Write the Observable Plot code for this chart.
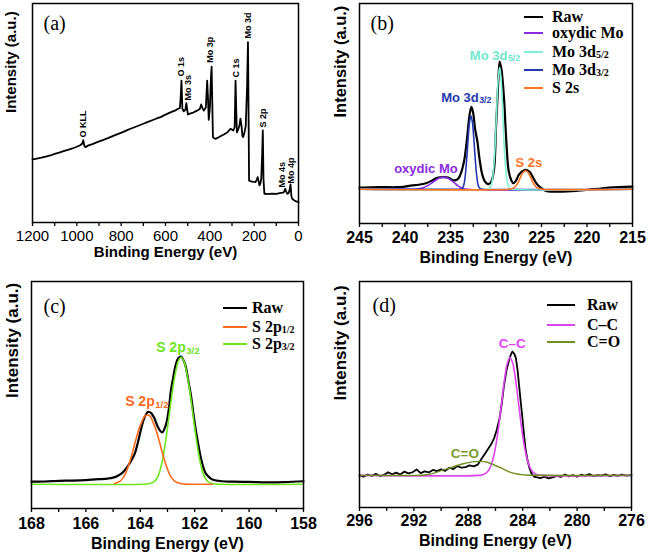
<!DOCTYPE html>
<html><head><meta charset="utf-8">
<script src="https://cdn.jsdelivr.net/npm/d3@7"></script>
<script src="https://cdn.jsdelivr.net/npm/@observablehq/plot@0.6"></script>
<style>
body{margin:0;background:#fff;}
#wrap{position:relative;width:650px;height:557px;overflow:hidden;background:#fff;}
.pnl{position:absolute;}
.leg{position:absolute;font-family:"Liberation Serif","Times New Roman",serif;font-weight:bold;font-size:16px;color:#000;}
.leg .ln{position:absolute;height:0;border-top:2px solid;}
.leg .tx{position:absolute;white-space:nowrap;line-height:18px;}
.leg sub{font-size:10px;vertical-align:baseline;position:relative;top:1px;}
</style></head><body><div id="wrap"></div><script>
// ---------- (a) survey ----------
const surveyBE = [1200,1180,1160,1140,1119,1100,1080,1060,1040,1020,1000,985,975,971,966,961,950,930,908,880,860,833,810,790,770,758,740,720,700,682,660,640,622,607,590,570,555,545,535,531,528,524,518,510,506,502,499,490,475,457,445,439,433,427,418,412,408,405,400,395,392,389,386,380,374,360,350,337,320,307,300,294,288,284,281,278,272,266,262,257,253,250,245,238,232,228,226,223,220,210,200,194,188,184,180,176,172,168,164,161,158,154,150,140,120,100,85,72,66,60,56,50,45,40,36,32,28,20,10,0];
const surveyI = [28.8,29.2,29.6,30.1,30.6,31.3,31.9,32.6,33.2,33.8,34.6,35.3,36.1,37.6,35.0,34.4,35.1,35.8,36.7,37.7,38.5,39.7,40.6,41.4,42.3,42.8,43.5,44.3,45.1,45.8,46.7,47.5,48.1,48.9,49.7,50.6,51.2,51.8,52.3,58.0,64.8,52.0,50.8,51.5,54.5,51.5,49.3,49.7,50.2,51.1,51.8,53.9,52.2,51.1,52.5,64.8,56.0,46.9,52.0,66.0,71.2,55.0,39.0,38.5,38.2,38.9,39.5,40.2,41.2,42.8,42.4,42.0,43.5,64.8,52.0,41.2,42.5,44.5,47.4,44.0,39.5,39.0,40.5,44.0,62.0,82.3,60.0,19.2,19.0,18.7,18.5,18.4,19.6,20.7,18.8,17.0,17.8,20.0,31.0,42.0,20.0,13.1,13.2,13.0,13.2,13.1,13.4,13.6,13.8,15.4,14.2,13.1,13.4,15.0,17.4,12.0,10.8,10.2,9.6,9.3];
const surveyLabels = ["O KLL","O 1s","Mo 3s","Mo 3p","C 1s","Mo 3d","S 2p","Mo 4s","Mo 4p"];
const surveyLabelBE = [970,528,496,401,280,225.6,158,72,31.6];
const surveyLabelI = [38.8,66.7,55.7,73,66.2,84,43.4,16,17.8];
const surveyTicks = [1200,1000,800,600,400,200,0];
const surveyMinor = [1100,900,700,500,300,100];

// ---------- (b) Mo 3d ----------
const moBE = [245,244,243,242,241,240,239.2,238.5,237.7,237,236.6,236.2,235.7,235.2,234.8,234.4,234.1,233.8,233.5,233.3,233.1,232.9,232.7,232.5,232.3,232.05,231.8,231.5,231.2,230.8,230.5,230.2,230,229.8,229.6,229.4,229.1,228.9,228.6,228.3,228.1,227.8,227.5,227.1,226.7,226.3,226,225.6,225.1,224.5,223.8,223.1,222.2,221.2,220.3,219.4,218.5,217.6,216.5,215];
const moRaw = [16.3,16.4,16.5,16.5,16.5,16.8,17.3,17.6,18.3,19.6,20.6,21.0,21.1,20.8,19.8,19.7,20.6,23.5,28.5,34.4,42,49.5,53,50,43,37.4,29,22.1,19,17.9,19.2,25.2,43.5,60,73.6,70,55.7,40,23.7,19.5,18.3,19.5,22.1,23.8,24.4,23.5,21.4,18.5,16.3,14.8,14.5,14.5,14.6,14.8,15.1,15.6,15.9,16.3,16.6,16.8];
const oxBE = [245,239,238.5,238,237.5,237,236.5,236.1,235.8,235.4,235,234.6,234.2,233.8,233.4,215];
const oxI = [15.6,15.6,15.8,16.3,17.2,18.6,20.0,20.9,21.1,20.8,19.9,18.6,17.2,16.2,15.7,15.6];
const d32BE = [245,234.1,233.85,233.65,233.5,233.35,233.2,233.05,232.9,232.75,232.6,232.45,232.3,232.15,232.0,231.85,231.65,231.4,215];
const d32I = [15.6,15.6,15.7,16.3,18.2,22.9,30.4,39.3,46.3,48.9,46.3,39.3,30.4,22.9,18.2,16.3,15.7,15.6,15.6];
const d52BE = [245,231,230.7,230.5,230.35,230.2,230.05,229.9,229.75,229.6,229.45,229.3,229.15,229.0,228.85,228.7,228.5,228.2,215];
const d52I = [15.6,15.6,16.0,17.7,21.4,28.3,39.7,54.2,66.3,71,66.3,54.2,39.7,28.3,21.4,17.7,16.0,15.6,15.6];
const s2sBE = [245,228.6,228.25,228.0,227.75,227.5,227.25,227.0,226.75,226.5,226.25,226.0,225.75,225.5,225.25,224.9,215];
const s2sI = [15.6,15.6,15.9,16.3,17.4,19.1,21.5,23.3,24,23.3,21.5,19.1,17.4,16.3,15.9,15.6,15.6];
const moTicks = [245,240,235,230,225,220,215];
const moMinor = [242.5,237.5,232.5,227.5,222.5,217.5];
const moLabels = ["oxydic Mo","Mo 3d","Mo 3d","S 2s"];
const moLabelSub = ["","3/2","5/2",""];
const moLabelBE = [237.7,231.9,228.75,226.4];
const moLabelI = [24.7,57.3,76.3,27.5];

// ---------- (c) S 2p ----------
const sBE = [168,167.5,167,166.5,166,165.5,165.2,165.0,164.84,164.65,164.47,164.3,164.2,164.1,163.98,163.85,163.71,163.6,163.49,163.34,163.2,163.06,162.95,162.88,162.8,162.7,162.6,162.5,162.4,162.33,162.2,162.14,162.05,161.96,161.85,161.77,161.68,161.59,161.45,161.35,161,160.55,160,159.32,158.7,158];
const sRaw = [11.8,11.9,12.2,12.3,12.5,12.9,13.2,13.6,14.3,15.8,18.4,21.8,24.3,28.5,34.6,40,42.6,42,40,35.6,33.5,36.8,44,51.5,57,63.2,66.3,66.9,65,62.5,54,50,42,34.6,27,22.1,18,15.4,13.6,12.8,12.0,11.8,11.7,11.5,11.6,12];
const p32BE = [168,163.9,163.7,163.6,163.5,163.4,163.3,163.2,163.1,163.0,162.9,162.8,162.7,162.6,162.5,162.4,162.3,162.2,162.1,162.0,161.9,161.8,161.7,161.6,161.5,161.3,161.1,158];
const p32I = [10.7,10.7,10.9,11.2,11.7,13.1,15.8,20.4,27.2,35.5,44.6,53.2,60.2,64.9,66.6,64.9,60.2,53.2,44.6,35.5,27.2,20.4,15.8,13.1,11.7,10.9,10.7,10.7];
const p12BE = [164.95,164.74,164.64,164.54,164.44,164.34,164.24,164.14,164.04,163.94,163.84,163.74,163.64,163.54,163.44,163.34,163.24,163.14,163.04,162.94,162.84,162.74,162.54,162.34,161.35];
const p12I = [11.0,12.1,13.4,15.5,18.6,22.5,26.8,31.3,35.3,38.3,40.7,41.2,40.7,38.3,35.3,31.3,26.8,22.5,18.6,15.5,13.4,12.1,11.0,10.75,10.7];
const sTicks = [168,166,164,162,160,158];
const sMinor = [167,165,163,161,159];
const sLabels = ["S 2p","S 2p"];
const sLabelSub = ["1/2","3/2"];
const sLabelBE = [163.47,162.33];
const sLabelI = [47,70.9];

// ---------- (d) C 1s ----------
const cBE = [296.0,295.7,295.4,295.1,294.8,294.5,294.2,293.9,293.6,293.3,293.0,292.7,292.4,292.1,291.8,291.5,291.2,290.9,290.6,290.3,290.0,289.7,289.4,289.1,288.8,288.5,288.2,287.9,287.6,287.3,287.0,286.75,286.5,286.3,286.1,285.9,285.7,285.55,285.4,285.2,285.0,284.85,284.76,284.62,284.5,284.38,284.27,284.15,284.02,283.9,283.8,283.65,283.5,283.35,283.17,283.0,282.7,282.4,282.1,281.8,281.5,281.2,280.9,280.6,280.3,280.0,279.7,279.4,279.1,278.8,278.5,278.2,277.9,277.6,277.3,277.0,276.7,276.4,276.0];
const cRaw = [14.3,13.6,14.6,14.0,14.9,13.9,14.4,15.6,14.7,15.4,14.6,15.9,15.1,15.6,16.8,15.2,16.0,15.5,16.6,16.1,16.9,16.2,17.6,17.0,18.3,17.6,17.9,18.6,18.2,19.0,21.8,24.0,26.3,28.2,30.7,34.5,39.5,45.5,52.8,60.5,65.3,68.0,69.0,68.0,66.1,61,54.3,47,39.5,32,26.3,21,17.4,15.0,13.7,13.4,13.0,13.6,12.9,13.3,14.0,13.5,14.6,13.8,14.3,13.6,14.5,14.0,14.8,13.9,14.3,14.1,14.7,13.8,14.4,14.0,14.6,14.1,14.3];
const ccBE = [296,287.23,286.93,286.73,286.53,286.33,286.13,285.93,285.73,285.53,285.33,285.13,284.93,284.73,284.53,284.33,284.13,283.93,283.73,283.53,283.33,283.13,282.93,282.63,276];
const ccI = [14.2,14.2,14.5,15.1,16.3,18.6,22.7,29.0,37.5,47.4,56.9,63.8,66.4,63.8,56.9,47.4,37.5,29.0,22.7,18.6,16.3,15.1,14.5,14.2,14.2];
const coBE = [296,292,291.1,290.5,289.9,289.3,288.7,288.2,287.7,287.15,286.6,286.1,285.6,285.0,284.4,283.8,283.2,276];
const coI = [14.2,14.2,14.5,15.2,16.5,17.6,18.8,19.6,20.2,20.4,20.0,18.8,17.5,15.8,14.8,14.4,14.25,14.2];
const cTicks = [296,292,288,284,280,276];
const cMinor = [294,290,286,282,278];
const cLabels = ["C\u2013C","C=O"];
const cLabelBE = [284.76,288.25];
const cLabelI = [72.7,24];

// ---------- legends ----------
const legB = [["Raw",""],["oxydic Mo",""],["Mo 3d","5/2"],["Mo 3d","3/2"],["S 2s",""]];
const legC = [["Raw",""],["S 2p","1/2"],["S 2p","3/2"]];
const legD = [["Raw",""],["C\u2013C",""],["C=O",""]];

// colours
const BLACK = "#000", PURPLE = "#8a2be2", AQUA = "#7ff0d2", BLUE = "#2438b0", ORANGE = "#ff7420",
      ORANGE2 = "#ff6a1c", GREEN = "#6ee61e", MAGENTA = "#dd44f0", OLIVE = "#6f8f1f";

const SANS = '"Liberation Sans", Arial, Helvetica, sans-serif';
const SERIF = '"Liberation Serif", "Times New Roman", serif';
const wrap = document.getElementById("wrap");
const pts = (xs, ys) => xs.map((x, i) => ({x, y: ys[i]}));

function panel(cfg) {
  const marks = [
    Plot.axisX({ticks: cfg.minor, tickSize: 4, tickFormat: () => "", label: null, strokeWidth: 1.3}),
    Plot.axisX({ticks: cfg.ticks, tickSize: 4, tickPadding: cfg.tickPad, tickFormat: d => String(d), label: null,
      fontSize: cfg.tickFont, fontWeight: cfg.tickWeight, strokeWidth: 1.3}),
  ];
  for (const s of cfg.series) {
    marks.push(Plot.line(s.data, {x: "x", y: "y", stroke: s.color, strokeWidth: s.w, curve: s.curve || "linear"}));
  }
  marks.push(Plot.frame({stroke: "#000", strokeWidth: 1.5}));
  marks.push(Plot.text(["Binding Energy (eV)"], {text: d => d, frameAnchor: "bottom", dy: cfg.titleDy, lineAnchor: "middle",
    fontSize: cfg.titleFont, fontWeight: "bold"}));
  marks.push(Plot.text(["Intensity (a.u.)"], {text: d => d, frameAnchor: "left", rotate: -90, dx: cfg.yTitleDx, dy: cfg.yTitleDy || 0,
    lineAnchor: "middle", fontSize: cfg.yTitleFont, fontWeight: "bold"}));
  marks.push(Plot.text([cfg.letter], {text: d => d, frameAnchor: "top-left", dx: cfg.letterDx, dy: cfg.letterDy, textAnchor: "start",
    lineAnchor: "middle", fontFamily: SERIF, fontSize: 20}));
  for (const m of (cfg.extra || [])) marks.push(m);
  const svg = Plot.plot({
    width: cfg.width, height: cfg.height,
    marginTop: cfg.m[0], marginRight: cfg.m[1], marginBottom: cfg.m[2], marginLeft: cfg.m[3],
    x: {domain: cfg.domain},
    y: {domain: [0, 100], axis: null},
    style: {fontFamily: SANS, fontSize: "16px", color: "#000", background: "transparent", overflow: "visible"},
    marks
  });
  const d = document.createElement("div");
  d.className = "pnl";
  d.style.left = cfg.left + "px";
  d.style.top = cfg.top + "px";
  d.appendChild(svg);
  wrap.appendChild(d);
}

function legend(rows, colors, x0, x1, tx, ys) {
  const d = document.createElement("div");
  d.className = "leg";
  d.style.left = "0px"; d.style.top = "0px";
  rows.forEach((r, i) => {
    const ln = document.createElement("div");
    ln.className = "ln";
    ln.style.left = x0 + "px"; ln.style.width = (x1 - x0) + "px";
    ln.style.top = (ys[i] - 1) + "px"; ln.style.borderTopColor = colors[i];
    ln.style.borderTopWidth = (i === 0 ? 2.5 : 2) + "px";
    d.appendChild(ln);
    const t = document.createElement("div");
    t.className = "tx";
    t.style.left = tx + "px"; t.style.top = (ys[i] - 9) + "px";
    t.textContent = r[0];
    if (r[1]) { const s = document.createElement("sub"); s.textContent = r[1]; t.appendChild(s); }
    d.appendChild(t);
  });
  wrap.appendChild(d);
}

function subLabels(names, subs, xs, ys, colors, size) {
  const data = names.map((n, i) => ({n, s: subs[i], x: xs[i], y: ys[i], c: colors[i]}));
  const plain = data.filter(d => !d.s), withSub = data.filter(d => d.s);
  return [
    Plot.text(plain, {x: "x", y: "y", text: "n", fill: "c", textAnchor: "middle", lineAnchor: "middle",
      fontSize: size, fontWeight: "bold"}),
    Plot.text(withSub, {x: "x", y: "y", text: "n", fill: "c", textAnchor: "end", lineAnchor: "middle",
      fontSize: size, fontWeight: "bold"}),
    Plot.text(withSub, {x: "x", y: "y", text: "s", fill: "c", textAnchor: "start", lineAnchor: "middle",
      dy: 3, dx: 0.5, fontSize: size * 0.68, fontWeight: "bold"})
  ];
}

// (a)
panel({
  left: 0, top: 0, width: 325, height: 278, m: [3, 27, 56, 32], domain: [1200, 0],
  ticks: surveyTicks, minor: surveyMinor, tickPad: 4, tickFont: 15, tickWeight: "normal",
  titleDy: 30, titleFont: 15, yTitleDx: -21, yTitleFont: 15, letter: "(a)", letterDx: 11, letterDy: 20,
  series: [{data: pts(surveyBE, surveyI), color: BLACK, w: 1.8}],
  extra: [Plot.text(surveyLabels.map((n, i) => ({n, x: surveyLabelBE[i], y: surveyLabelI[i]})),
    {x: "x", y: "y", text: "n", rotate: -90, textAnchor: "start", lineAnchor: "middle", fontSize: 9, fontWeight: "bold"})]
});

// (b)
panel({
  left: 325, top: 0, width: 325, height: 278, m: [3, 18, 55, 34], domain: [245, 215],
  ticks: moTicks, minor: moMinor, tickPad: 4.5, tickFont: 16, tickWeight: "bold",
  titleDy: 34, titleFont: 16, yTitleDx: -19, yTitleDy: 4, yTitleFont: 16.5, letter: "(b)", letterDx: 11, letterDy: 20,
  series: [
    {data: pts(moBE, moRaw), color: BLACK, w: 2.2, curve: "catmull-rom"},
    {data: pts(oxBE, oxI), color: PURPLE, w: 1.6, curve: "catmull-rom"},
    {data: pts(d32BE, d32I), color: BLUE, w: 1.6, curve: "catmull-rom"},
    {data: pts(d52BE, d52I), color: AQUA, w: 1.6, curve: "catmull-rom"},
    {data: pts(s2sBE, s2sI), color: ORANGE, w: 1.6, curve: "catmull-rom"}
  ],
  extra: subLabels(moLabels, moLabelSub, moLabelBE, moLabelI, [PURPLE, BLUE, "#6fe8cc", ORANGE], 13)
});

// (c)
panel({
  left: 0, top: 278, width: 325, height: 279, m: [3, 22, 49, 31], domain: [168, 158],
  ticks: sTicks, minor: sMinor, tickPad: 5, tickFont: 16, tickWeight: "bold",
  titleDy: 35, titleFont: 16, yTitleDx: -19, yTitleDy: 3, yTitleFont: 17, letter: "(c)", letterDx: 12, letterDy: 25,
  series: [
    {data: pts(sBE, sRaw), color: BLACK, w: 2.2, curve: "catmull-rom"},
    {data: pts(p32BE, p32I), color: GREEN, w: 1.6, curve: "catmull-rom"},
    {data: pts(p12BE, p12I), color: ORANGE2, w: 1.6, curve: "catmull-rom"}
  ],
  extra: subLabels(sLabels, sLabelSub, sLabelBE, sLabelI, [ORANGE2, GREEN], 14)
});

// (d)
panel({
  left: 325, top: 278, width: 325, height: 279, m: [3, 19, 50, 34], domain: [296, 276],
  ticks: cTicks, minor: cMinor, tickPad: 3, tickFont: 16, tickWeight: "bold",
  titleDy: 33, titleFont: 16, yTitleDx: -19, yTitleDy: 6, yTitleFont: 17, letter: "(d)", letterDx: 13, letterDy: 24,
  series: [
    {data: pts(cBE, cRaw), color: BLACK, w: 1.8},
    {data: pts(ccBE, ccI), color: MAGENTA, w: 1.6, curve: "catmull-rom"},
    {data: pts(coBE, coI), color: OLIVE, w: 1.4, curve: "catmull-rom"}
  ],
  extra: subLabels(cLabels, ["", ""], cLabelBE, cLabelI, [MAGENTA, "#7a9a2a"], 13.5)
});

legend(legB, [BLACK, PURPLE, AQUA, BLUE, ORANGE], 524, 543, 552, [17, 33, 52, 70, 88]);
legend(legC, [BLACK, ORANGE2, GREEN], 223, 247, 252, [308, 327, 344]);
legend(legD, [BLACK, MAGENTA, OLIVE], 547, 575, 587, [305, 325, 342]);
</script></body></html>
